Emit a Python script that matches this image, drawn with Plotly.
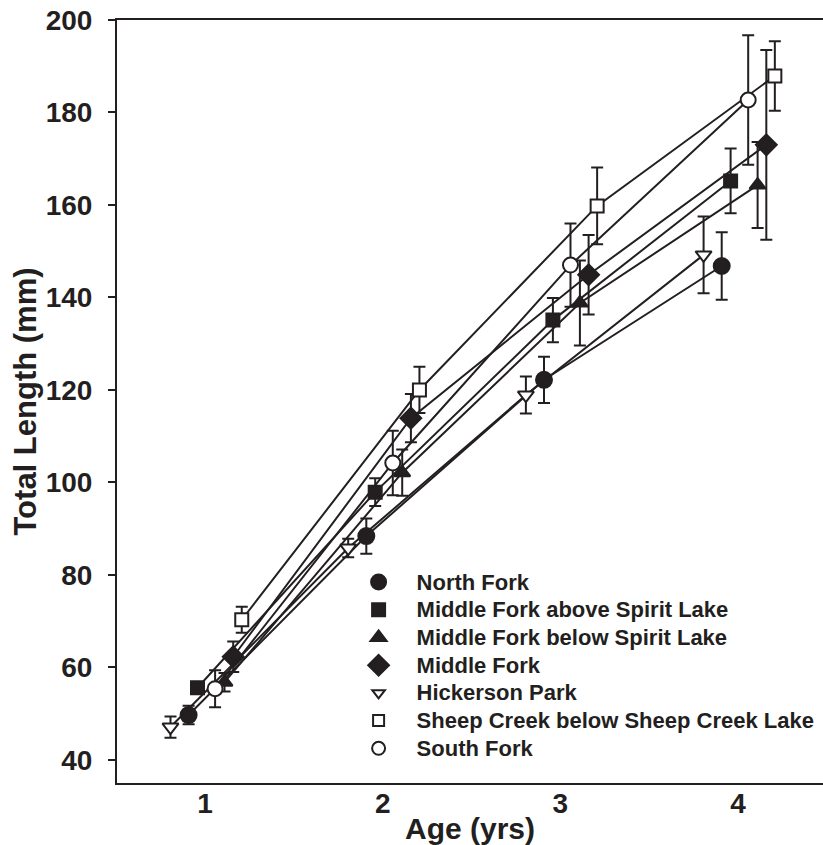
import plotly.graph_objects as go

# ---- data ----
ages = [1, 2, 3, 4]
series_names = [
    "North Fork",
    "Middle Fork above Spirit Lake",
    "Middle Fork below Spirit Lake",
    "Middle Fork",
    "Hickerson Park",
    "Sheep Creek below Sheep Creek Lake",
    "South Fork",
]
north_fork = [49.7, 88.4, 122.2, 146.8]
north_fork_sd = [2.0, 3.8, 5.0, 7.3]
mf_above = [55.6, 97.9, 135.1, 165.2]
mf_above_sd = [1.2, 3.0, 4.8, 7.0]
mf_below = [56.8, 102.1, 138.8, 164.3]
mf_below_sd = [2.0, 5.0, 9.2, 9.3]
middle_fork = [62.3, 113.9, 144.9, 173.0]
middle_fork_sd = [3.3, 5.2, 8.6, 20.5]
hickerson = [47.1, 85.8, 118.9, 149.2]
hickerson_sd = [2.3, 2.0, 4.0, 8.3]
sheep_creek = [70.3, 120.0, 159.8, 187.9]
sheep_creek_sd = [2.8, 5.0, 8.3, 7.5]
south_fork = [55.4, 104.2, 147.0, 182.7]
south_fork_sd = [4.0, 7.0, 9.0, 14.0]
y_ticks = [40, 60, 80, 100, 120, 140, 160, 180, 200]
x_ticks = [1, 2, 3, 4]

values = [north_fork, mf_above, mf_below, middle_fork, hickerson, sheep_creek, south_fork]
errors = [north_fork_sd, mf_above_sd, mf_below_sd, middle_fork_sd, hickerson_sd, sheep_creek_sd, south_fork_sd]

# ---- styling ----
INK = "#231f20"
FONT = "Liberation Sans, Arial, Helvetica, sans-serif"
# horizontal dodge of each series around the integer age
dodge = [-0.092, -0.042, 0.11, 0.159, -0.194, 0.207, 0.057]
symbols = ["circle", "square", "triangle-up", "diamond", "triangle-down", "square", "circle"]
fills = [INK, INK, INK, INK, "white", "white", "white"]
sizes = [16, 13, 14, 16, 14, 13, 15]
legend_sizes = [15, 13, 14, 16, 11, 11, 13]

fig = go.Figure()

for i, name in enumerate(series_names):
    xs = [a + dodge[i] for a in ages]
    fig.add_trace(go.Scatter(
        x=xs, y=values[i], mode="lines+markers", name=name, showlegend=False,
        line=dict(color=INK, width=2),
        marker=dict(symbol=symbols[i], size=sizes[i], color=fills[i],
                    line=dict(color=INK, width=2)),
        error_y=dict(type="data", array=errors[i], visible=True,
                     color=INK, thickness=2, width=6),
    ))

# legend-only entries (markers without lines)
for i, name in enumerate(series_names):
    fig.add_trace(go.Scatter(
        x=[None], y=[None], mode="markers",
        name='<span style="font-size:22px">' + name + "</span>",
        showlegend=True,
        marker=dict(symbol=symbols[i], size=legend_sizes[i], color=fills[i],
                    line=dict(color=INK, width=2)),
    ))

fig.update_layout(
    width=823, height=845,
    margin=dict(l=117, r=0, t=20, b=62),
    paper_bgcolor="white", plot_bgcolor="white",
    font=dict(family=FONT, color=INK),
    showlegend=True,
    legend=dict(
        x=0.3167, y=0.288, xanchor="left", yanchor="top",
        bgcolor="rgba(0,0,0,0)", borderwidth=0,
        font=dict(family=FONT, size=19, color=INK, weight="bold"),
        itemwidth=66, tracegroupgap=0,
    ),
    xaxis=dict(
        range=[0.505, 4.478], tickvals=x_ticks, ticktext=[str(t) for t in x_ticks],
        showgrid=False, zeroline=False, showline=True, linecolor=INK, linewidth=2,
        mirror=True, ticks="", automargin=False, ticklabelstandoff=-6,
        tickfont=dict(family=FONT, size=28, color=INK, weight="bold"),
        title=dict(text="Age (yrs)", standoff=0,
                   font=dict(family=FONT, size=30, color=INK, weight="bold")),
    ),
    yaxis=dict(
        range=[35, 200], tickvals=y_ticks, ticktext=[str(t) for t in y_ticks],
        showgrid=False, zeroline=False, showline=True, linecolor=INK, linewidth=2,
        ticks="outside", ticklen=7, tickwidth=2, tickcolor=INK, automargin=False,
        tickfont=dict(family=FONT, size=28, color=INK, weight="bold"),
        ticklabelstandoff=10,
        title=dict(text="Total Length (mm)", standoff=0,
                   font=dict(family=FONT, size=31, color=INK, weight="bold")),
    ),
)

fig.write_html("out.html", config={"displayModeBar": False},
               post_script="document.body.style.margin='0px';")
